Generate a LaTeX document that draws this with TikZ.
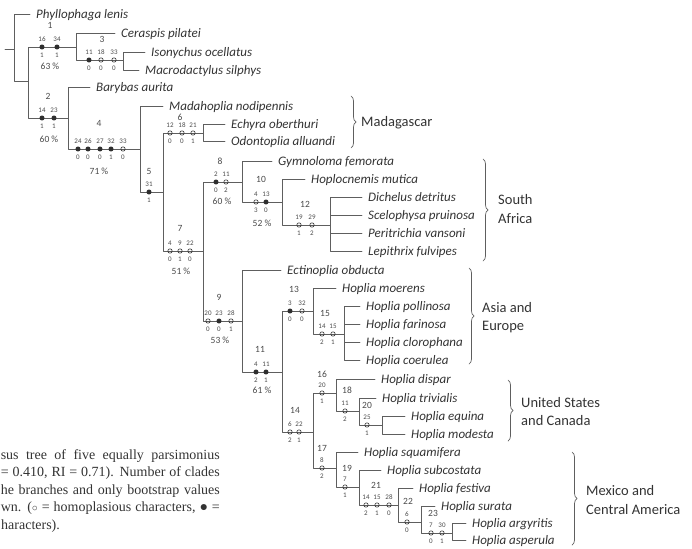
\documentclass[tikz,border=0pt]{standalone}
\usepackage{fontspec}
\setmainfont{Carlito}
\newfontfamily\capfont{Liberation Serif}
\usetikzlibrary{decorations.pathreplacing}
\definecolor{TreeGrey}{HTML}{5E5E5E}
\definecolor{InkGrey}{HTML}{333333}
\definecolor{NumGrey}{HTML}{4A4A4A}
\definecolor{dk}{HTML}{2E2E2E}

\begin{document}
\begin{tikzpicture}[x=1pt,y=-1pt,line cap=round,line join=round,
  br/.style={TreeGrey,line width=0.9pt},
  taxon/.style={anchor=west,inner xsep=6pt,inner ysep=0pt,text height=8.4pt,text depth=0pt,
    font=\itshape\fontsize{13}{14}\selectfont,text=InkGrey},
  cl/.style={inner sep=0pt,font=\fontsize{9.5}{10}\selectfont,text=NumGrey},
  chn/.style={inner sep=0pt,font=\fontsize{7}{7}\selectfont,text=NumGrey},
  dot/.style={circle,inner sep=0pt,minimum size=4.4pt,draw=dk,line width=0.6pt,fill=#1},
  region/.style={anchor=west,align=left,inner sep=0pt,font=\fontsize{14.5}{18.5}\selectfont,text=InkGrey},
  bracket/.style={decorate,decoration={brace,amplitude=5pt},TreeGrey,line width=0.7pt},
  capline/.style={anchor=base east,inner sep=0pt,font=\capfont\fontsize{14}{17}\selectfont,text=InkGrey}]
  \useasboundingbox (0,0) rectangle (692,548);

  % internal nodes
  \coordinate (base) at (5,49);   \coordinate (root) at (14,49);  \coordinate (n0) at (28,81);
  \coordinate (c1) at (76,47);    \coordinate (c3) at (123,60);   \coordinate (c2) at (68,118);
  \coordinate (c4) at (140,149);  \coordinate (c5) at (163,192);  \coordinate (c6) at (203,133);
  \coordinate (c7) at (203,251);  \coordinate (c8) at (242,182);  \coordinate (c10) at (282,202);
  \coordinate (c12) at (330,225); \coordinate (c9) at (242,321);  \coordinate (c11) at (282,372);
  \coordinate (c13) at (313,311); \coordinate (c15) at (344,334); \coordinate (c14) at (313,432);
  \coordinate (c16) at (336,393); \coordinate (c18) at (359,411); \coordinate (c20) at (382,425);
  \coordinate (c17) at (336,468); \coordinate (c19) at (359,487); \coordinate (c21) at (398,505);
  \coordinate (c22) at (421,522); \coordinate (c23) at (452,533);

  % terminals
  \node[taxon] (phyl) at (30,14) {Phyllophaga lenis};
  \node[taxon] (cera) at (115,33) {Ceraspis pilatei};
  \node[taxon] (ison) at (145,52) {Isonychus ocellatus};
  \node[taxon] (macr) at (139,70) {Macrodactylus silphys};
  \node[taxon] (bary) at (90,87) {Barybas aurita};
  \node[taxon] (mada) at (163,106) {Madahoplia nodipennis};
  \node[taxon] (echy) at (225,124) {Echyra oberthuri};
  \node[taxon] (odon) at (225,141) {Odontoplia alluandi};
  \node[taxon] (gymn) at (272,161) {Gymnoloma femorata};
  \node[taxon] (hplc) at (305,179) {Hoplocnemis mutica};
  \node[taxon] (dich) at (362,197) {Dichelus detritus};
  \node[taxon] (scel) at (362,215) {Scelophysa pruinosa};
  \node[taxon] (peri) at (362,233) {Peritrichia vansoni};
  \node[taxon] (lepi) at (362,251) {Lepithrix fulvipes};
  \node[taxon] (ecti) at (281,270) {Ectinoplia obducta};
  \node[taxon] (moer) at (336,288) {Hoplia moerens};
  \node[taxon] (poll) at (360,306) {Hoplia pollinosa};
  \node[taxon] (fari) at (360,324) {Hoplia farinosa};
  \node[taxon] (clor) at (360,342) {Hoplia clorophana};
  \node[taxon] (coer) at (360,360) {Hoplia coerulea};
  \node[taxon] (disp) at (375,379) {Hoplia dispar};
  \node[taxon] (triv) at (376,398) {Hoplia trivialis};
  \node[taxon] (equi) at (405,416) {Hoplia equina};
  \node[taxon] (mode) at (405,434) {Hoplia modesta};
  \node[taxon] (squa) at (358,452) {Hoplia squamifera};
  \node[taxon] (subc) at (381,470) {Hoplia subcostata};
  \node[taxon] (fest) at (413,488) {Hoplia festiva};
  \node[taxon] (sura) at (435,506) {Hoplia surata};
  \node[taxon] (argy) at (466,523) {Hoplia argyritis};
  \node[taxon] (aspe) at (466,540) {Hoplia asperula};

  % branches
  \draw[br] (base) -- (root);
  \foreach \p/\q in {root/phyl,root/n0,n0/c1,n0/c2,c1/cera,c1/c3,c3/ison,c3/macr,c2/bary,c2/c4,
      c4/mada,c4/c5,c5/c6,c5/c7,c6/echy,c6/odon,c7/c8,c7/c9,c8/gymn,c8/c10,c10/hplc,c10/c12,
      c12/dich,c12/scel,c12/peri,c12/lepi,c9/ecti,c9/c11,c11/c13,c11/c14,c13/moer,c13/c15,
      c15/poll,c15/fari,c15/clor,c15/coer,c14/c16,c14/c17,c16/disp,c16/c18,c18/triv,c18/c20,
      c20/equi,c20/mode,c17/squa,c17/c19,c19/subc,c19/c21,c21/fest,c21/c22,c22/sura,c22/c23,
      c23/argy,c23/aspe}
    \draw[br] (\p) |- (\q);

  % characters on branches (x/y/character/state/fill)
  \foreach \x/\y/\cn/\st/\f in {42/47/16/1/dk,57/47/34/1/dk,89/60/11/0/dk,101/60/18/0/none,114/60/33/0/none,
      42/118/14/1/dk,54/118/23/1/dk,78/149/24/0/dk,88/149/26/0/dk,100/149/27/0/dk,111/149/32/1/dk,
      123/149/33/0/none,149/192/31/1/dk,170/133/12/0/none,182/133/18/0/none,193/133/21/1/none,
      170/251/4/0/none,180/251/9/1/none,190/251/22/0/none,216/182/2/0/dk,226/182/11/2/none,
      256/202/4/3/none,266/202/13/0/dk,299/225/19/1/none,312/225/29/2/none,
      208/321/20/0/none,219/321/23/0/dk,231/321/28/1/none,256/372/4/2/dk,266/372/11/1/dk,
      290/311/3/0/dk,302/311/32/0/none,322/334/14/2/none,333/334/15/1/none,
      290/432/6/2/none,299/432/22/1/none,322/393/20/1/none,345/411/11/2/none,367/425/25/1/none,
      322/468/8/2/none,345/487/7/1/none,366/505/14/2/none,377/505/15/1/none,389/505/28/0/none,
      407/522/6/0/none,431/533/7/0/none,442/533/30/1/none}
  {
    \node[dot=\f] (m\x-\y) at (\x,\y) {};
    \node[chn] (u\x-\y) at (\x,\y-8) {\cn};
    \node[chn] (s\x-\y) at (\x,\y+8.5) {\st};
  }

  % clade numbers and bootstrap
  \foreach \n/\x/\y in {1/50/25,3/102/39,2/48/96,4/99/123,5/149/171,6/180/117.5,7/180/228,8/220/161,
      10/261/179,12/305/204,9/219/297,11/260/349,13/294/289,15/325/313,14/295/410,16/322/374,
      18/347/390,20/367/405,17/322/448,19/347/468,21/376/485,22/408/501,23/433/513}
    \node[cl] (l\n) at (\x,\y) {\n};
  \foreach \n/\x/\y/\v in {1/50/66/63,2/49/139/60,4/99/171/71,7/181/271/51,8/222/201/60,
      10/262/223/52,9/220/340/53,11/262/390/61}
    \node[cl] (b\n) at (\x,\y) {\v\ \%};

  % regions
  \draw[bracket] (351,96) -- (351,148);
  \draw[bracket] (483,159) -- (483,261);
  \draw[bracket] (469,268) -- (469,364);
  \draw[bracket] (508,380) -- (508,441);
  \draw[bracket] (572,452) -- (572,545);
  \node[region] (madag) at (361,123) {Madagascar};
  \node[region] (safr) at (498,209) {South\\Africa};
  \node[region] (asia) at (482,317.5) {Asia and\\Europe};
  \node[region] (usca) at (521,411.5) {United States\\and Canada};
  \node[region] (mexi) at (586,500) {Mexico and\\Central America};

  % caption
  \node[capline] (cap1) at (220,459) {\makebox[219pt][s]{sus tree of five equally parsimonius}};
  \node[capline] (cap2) at (220,476.5) {\makebox[219pt][s]{= 0.410, RI = 0.71). Number of clades}};
  \node[capline] (cap3) at (220,494) {\makebox[219pt][s]{he branches and only bootstrap values}};
  \node[capline] (cap4) at (220,511.5) {\makebox[219pt][s]{wn. ({\fontsize{10}{10}\selectfont ○} = homoplasious characters, {\fontsize{14}{14}\selectfont ●} =}};
  \node[capline,anchor=base west] (cap5) at (1,529) {haracters).};
\end{tikzpicture}
\end{document}
